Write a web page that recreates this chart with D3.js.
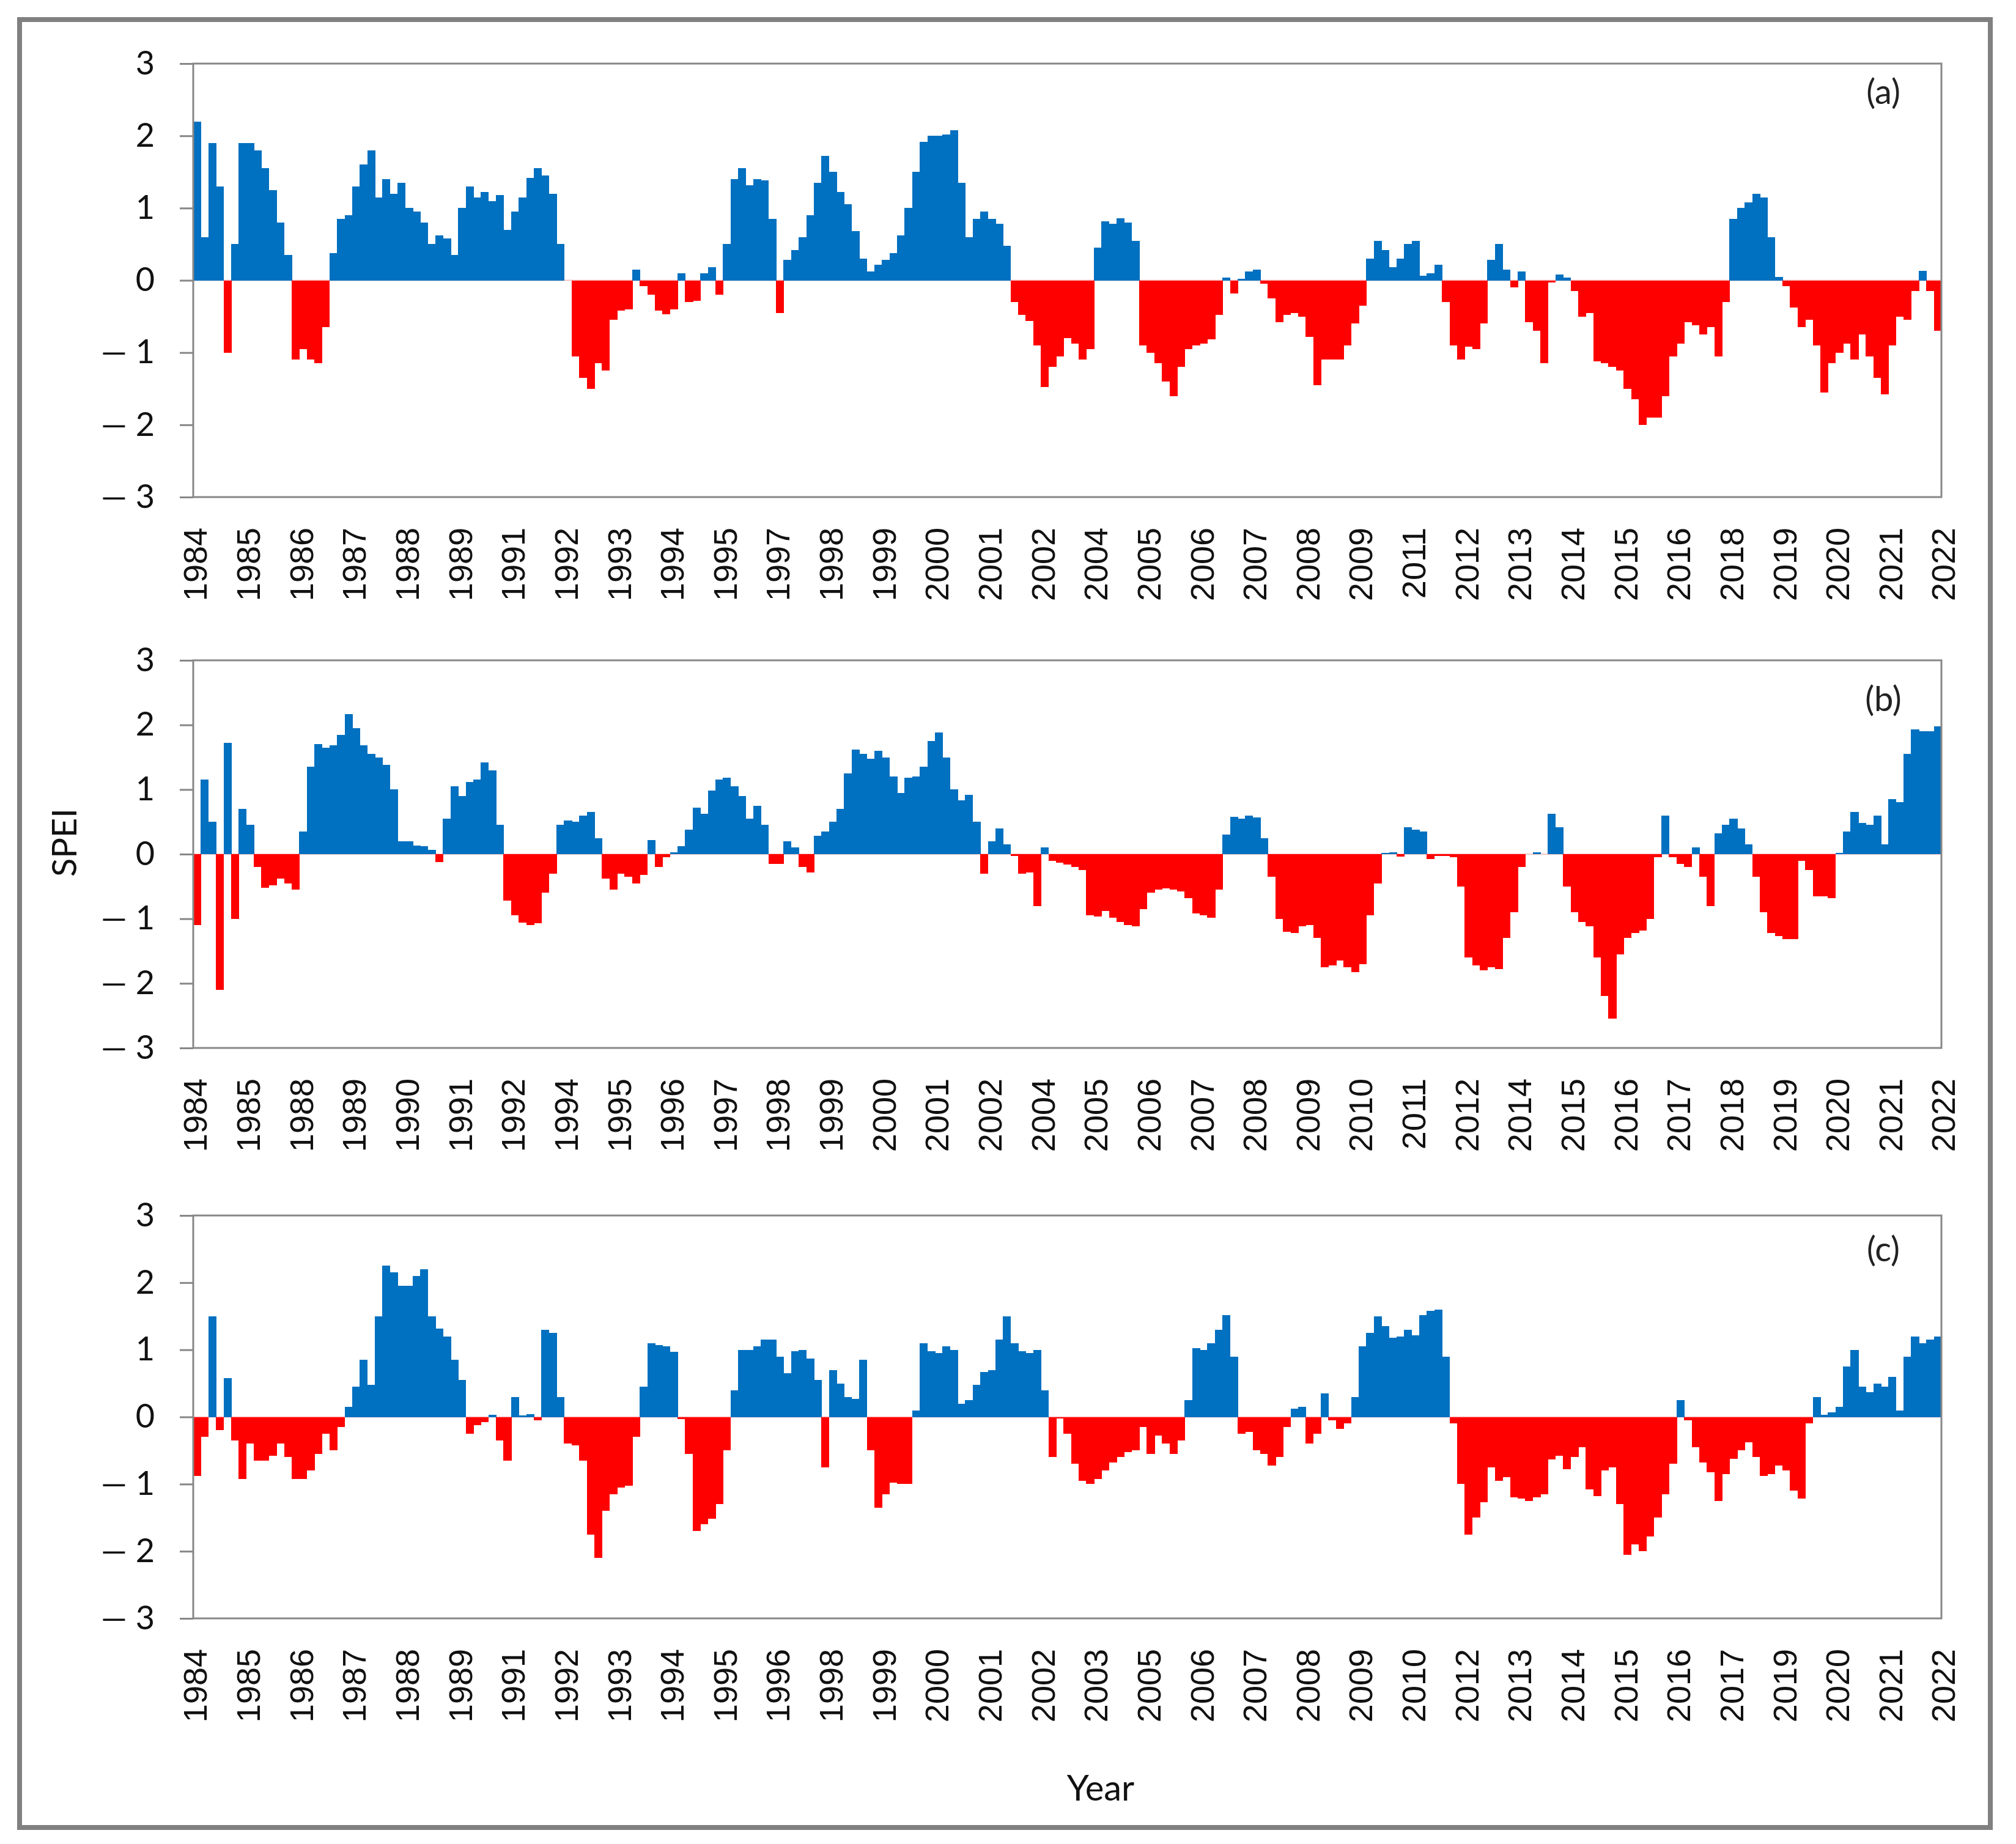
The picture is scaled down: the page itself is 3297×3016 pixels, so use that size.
<!DOCTYPE html>
<html>
<head>
<meta charset="utf-8">
<script src="https://cdn.jsdelivr.net/npm/d3@7/dist/d3.min.js"></script>
<style>
  html, body { margin: 0; padding: 0; background: #fff; }
  svg { display: block; }
</style>
</head>
<body>
<svg id="chart" width="3297" height="3016"></svg>
<script>
// ---------------- DATA ----------------
const labelsA = ["1984","1985","1986","1987","1988","1989","1991","1992","1993","1994","1995","1997","1998","1999","2000","2001","2002","2004","2005","2006","2007","2008","2009","2011","2012","2013","2014","2015","2016","2018","2019","2020","2021","2022"];
const labelsB = ["1984","1985","1988","1989","1990","1991","1992","1994","1995","1996","1997","1998","1999","2000","2001","2002","2004","2005","2006","2007","2008","2009","2010","2011","2012","2014","2015","2016","2017","2018","2019","2020","2021","2022"];
const labelsC = ["1984","1985","1986","1987","1988","1989","1991","1992","1993","1994","1995","1996","1998","1999","2000","2001","2002","2003","2005","2006","2007","2008","2009","2010","2012","2013","2014","2015","2016","2017","2019","2020","2021","2022"];

const yTicks = [-3, -2, -1, 0, 1, 2, 3];

const speiA = [
  2.2, 0.6, 1.9, 1.3, -1.0, 0.5, 1.9,
  1.9, 1.8, 1.55, 1.25, 0.8, 0.35, -1.1,
  -0.95, -1.1, -1.15, -0.65, 0.38, 0.85, 0.9,
  1.3, 1.6, 1.8, 1.15, 1.4, 1.2, 1.35,
  1.0, 0.95, 0.8, 0.5, 0.62, 0.58, 0.35,
  1.0, 1.3, 1.15, 1.22, 1.1, 1.18, 0.7,
  0.95, 1.15, 1.42, 1.55, 1.45, 1.2, 0.5,
  0, -1.05, -1.35, -1.5, -1.15, -1.25, -0.55,
  -0.42, -0.4, 0.15, -0.08, -0.2, -0.42, -0.47,
  -0.4, 0.1, -0.3, -0.28, 0.1, 0.18, -0.2,
  0.5, 1.4, 1.55, 1.32, 1.4, 1.38, 0.85,
  -0.45, 0.28, 0.42, 0.6, 0.9, 1.35, 1.72,
  1.5, 1.22, 1.05, 0.68, 0.3, 0.12, 0.22,
  0.28, 0.38, 0.62, 1.0, 1.5, 1.92, 2.0,
  2.0, 2.02, 2.08, 1.35, 0.6, 0.85, 0.95,
  0.85, 0.78, 0.48, -0.3, -0.48, -0.56, -0.9,
  -1.48, -1.2, -1.05, -0.8, -0.88, -1.1, -0.95,
  0.45, 0.82, 0.78, 0.86, 0.8, 0.55, -0.9,
  -1.0, -1.15, -1.4, -1.6, -1.2, -0.95, -0.9,
  -0.88, -0.82, -0.48, 0.04, -0.18, 0.02, 0.12,
  0.15, -0.05, -0.25, -0.58, -0.48, -0.45, -0.5,
  -0.78, -1.45, -1.1, -1.1, -1.1, -0.9, -0.6,
  -0.35, 0.3, 0.55, 0.42, 0.18, 0.3, 0.5,
  0.55, 0.06, 0.1, 0.22, -0.3, -0.9, -1.1,
  -0.92, -0.95, -0.6, 0.28, 0.5, 0.15, -0.1,
  0.12, -0.58, -0.7, -1.15, -0.03, 0.08, 0.04,
  -0.15, -0.5, -0.45, -1.12, -1.15, -1.2, -1.25,
  -1.5, -1.65, -2.0, -1.9, -1.9, -1.6, -1.05,
  -0.88, -0.58, -0.62, -0.75, -0.65, -1.05, -0.3,
  0.85, 1.0, 1.08, 1.2, 1.15, 0.6, 0.05,
  -0.08, -0.38, -0.65, -0.55, -0.9, -1.55, -1.15,
  -1.0, -0.88, -1.1, -0.75, -1.05, -1.35, -1.58,
  -0.9, -0.5, -0.55, -0.15, 0.13, -0.15, -0.7
];

const speiB = [
  -1.1, 1.15, 0.5, -2.1, 1.72, -1.0, 0.7,
  0.45, -0.2, -0.52, -0.48, -0.38, -0.45, -0.55,
  0.35, 1.35, 1.7, 1.65, 1.68, 1.85, 2.17,
  1.95, 1.68, 1.55, 1.5, 1.38, 1.0, 0.2,
  0.2, 0.13, 0.12, 0.07, -0.12, 0.55, 1.05,
  0.9, 1.12, 1.15, 1.42, 1.3, 0.45, -0.72,
  -0.95, -1.06, -1.1, -1.07, -0.6, -0.3, 0.45,
  0.52, 0.5, 0.6, 0.65, 0.25, -0.38, -0.55,
  -0.3, -0.35, -0.45, -0.32, 0.22, -0.2, -0.05,
  0.03, 0.12, 0.38, 0.72, 0.62, 0.98, 1.15,
  1.18, 1.05, 0.9, 0.55, 0.75, 0.45, -0.15,
  -0.15, 0.2, 0.1, -0.2, -0.28, 0.28, 0.35,
  0.5, 0.7, 1.25, 1.62, 1.55, 1.48, 1.6,
  1.5, 1.2, 0.95, 1.18, 1.2, 1.35, 1.75,
  1.88, 1.5, 1.0, 0.83, 0.92, 0.5, -0.3,
  0.2, 0.4, 0.15, -0.03, -0.3, -0.28, -0.8,
  0.1, -0.1, -0.13, -0.16, -0.2, -0.25, -0.95,
  -0.97, -0.88, -0.98, -1.05, -1.1, -1.12, -0.85,
  -0.6, -0.55, -0.53, -0.55, -0.58, -0.68, -0.92,
  -0.95, -0.98, -0.55, 0.3, 0.58, 0.55, 0.6,
  0.57, 0.25, -0.35, -1.0, -1.2, -1.22, -1.12,
  -1.1, -1.3, -1.75, -1.72, -1.65, -1.75, -1.83,
  -1.7, -0.95, -0.45, 0.02, 0.03, -0.04, 0.42,
  0.38, 0.35, -0.08, -0.03, -0.03, -0.05, -0.5,
  -1.6, -1.72, -1.8, -1.75, -1.78, -1.3, -0.9,
  -0.2, 0.0, 0.03, 0.0, 0.62, 0.42, -0.5,
  -0.9, -1.05, -1.12, -1.6, -2.2, -2.55, -1.55,
  -1.3, -1.22, -1.18, -1.0, -0.05, 0.6, -0.05,
  -0.15, -0.2, 0.1, -0.35, -0.8, 0.32, 0.45,
  0.55, 0.4, 0.15, -0.35, -0.9, -1.22, -1.27,
  -1.32, -1.32, -0.1, -0.25, -0.65, -0.65, -0.68,
  0.02, 0.35, 0.65, 0.48, 0.45, 0.6, 0.15,
  0.85, 0.8, 1.55, 1.93, 1.9, 1.9, 1.98
];

const speiC = [
  -0.88, -0.3, 1.5, -0.2, 0.58, -0.35, -0.92,
  -0.4, -0.65, -0.65, -0.58, -0.4, -0.6, -0.92,
  -0.92, -0.8, -0.55, -0.25, -0.5, -0.15, 0.15,
  0.45, 0.85, 0.48, 1.5, 2.25, 2.15, 1.95,
  1.95, 2.1, 2.2, 1.5, 1.32, 1.2, 0.85,
  0.55, -0.25, -0.12, -0.08, 0.03, -0.35, -0.65,
  0.3, 0.02, 0.04, -0.05, 1.3, 1.25, 0.3,
  -0.4, -0.42, -0.65, -1.75, -2.1, -1.4, -1.15,
  -1.05, -1.02, -0.3, 0.45, 1.1, 1.07, 1.05,
  0.97, -0.03, -0.55, -1.7, -1.6, -1.52, -1.3,
  -0.5, 0.4, 1.0, 1.0, 1.05, 1.15, 1.15,
  0.9, 0.65, 0.98, 1.0, 0.87, 0.55, -0.75,
  0.7, 0.5, 0.3, 0.27, 0.85, -0.5, -1.35,
  -1.15, -0.98, -1.0, -1.0, 0.1, 1.1, 0.98,
  0.95, 1.05, 1.0, 0.2, 0.25, 0.48, 0.67,
  0.7, 1.15, 1.5, 1.1, 0.98, 0.95, 1.0,
  0.4, -0.6, -0.02, -0.25, -0.7, -0.95, -1.0,
  -0.92, -0.8, -0.68, -0.6, -0.52, -0.5, -0.15,
  -0.55, -0.28, -0.4, -0.55, -0.35, 0.25, 1.02,
  1.0, 1.1, 1.3, 1.52, 0.9, -0.25, -0.22,
  -0.5, -0.55, -0.72, -0.6, -0.15, 0.12, 0.15,
  -0.4, -0.25, 0.35, -0.05, -0.18, -0.1, 0.3,
  1.05, 1.25, 1.5, 1.35, 1.18, 1.2, 1.3,
  1.22, 1.52, 1.58, 1.6, 0.9, -0.1, -1.0,
  -1.75, -1.5, -1.27, -0.75, -0.95, -0.9, -1.2,
  -1.22, -1.25, -1.2, -1.15, -0.63, -0.58, -0.78,
  -0.6, -0.45, -1.08, -1.18, -0.8, -0.75, -1.3,
  -2.05, -1.9, -2.0, -1.78, -1.5, -1.15, -0.7,
  0.25, -0.05, -0.45, -0.68, -0.82, -1.25, -0.85,
  -0.62, -0.5, -0.38, -0.6, -0.88, -0.85, -0.72,
  -0.8, -1.1, -1.22, -0.1, 0.3, 0.03, 0.07,
  0.15, 0.75, 1.0, 0.45, 0.37, 0.5, 0.45,
  0.6, 0.1, 0.9, 1.2, 1.1, 1.15, 1.2
];

const panelTags = ["(a)", "(b)", "(c)"];

// ---------------- LAYOUT ----------------
const W = 3297, H = 3016;
const X0 = 316, X1 = 3175;
const layout = [
  { top: 104,  bottom: 813,  tagY: 170 },
  { top: 1080, bottom: 1714, tagY: 1163 },
  { top: 1988, bottom: 2647, tagY: 2063 }
];
const seriesList = [speiA, speiB, speiC];
const labelList = [labelsA, labelsB, labelsC];

const BLUE = "#0070C0", RED = "#FF0000", FRAME = "#878787";
const tickFont = "Lato, 'Open Sans', 'DejaVu Sans', sans-serif";
const xFont = "'Liberation Sans', Arial, sans-serif";

const svg = d3.select("#chart");

// outer border
svg.append("rect")
  .attr("x", 32).attr("y", 32)
  .attr("width", 3223).attr("height", 2957)
  .attr("fill", "none").attr("stroke", "#808080").attr("stroke-width", 8);

seriesList.forEach((vals, p) => {
  const L = layout[p];
  const labels = labelList[p];
  const g = svg.append("g");

  const x = d3.scaleBand().domain(d3.range(vals.length)).range([X0, X1]).paddingInner(0).paddingOuter(0);
  const xl = d3.scalePoint().domain(d3.range(labels.length)).range([X0, X1]);
  const y = d3.scaleLinear().domain([-3, 3]).range([L.bottom, L.top]);

  // faint zero line
  g.append("line")
    .attr("x1", X0).attr("x2", X1)
    .attr("y1", y(0)).attr("y2", y(0))
    .attr("stroke", "#f7c4c4").attr("stroke-width", 2);

  // bars
  g.append("g").selectAll("rect")
    .data(vals)
    .join("rect")
    .attr("x", (d, i) => x(i))
    .attr("width", x.bandwidth() + 0.7)
    .attr("y", d => Math.min(y(d), y(0)))
    .attr("height", d => Math.abs(y(d) - y(0)))
    .attr("fill", d => d >= 0 ? BLUE : RED)
    .attr("shape-rendering", "crispEdges");

  // frame
  g.append("rect")
    .attr("x", X0).attr("y", L.top)
    .attr("width", X1 - X0).attr("height", L.bottom - L.top)
    .attr("fill", "none").attr("stroke", FRAME).attr("stroke-width", 3);

  // y axis
  const yAxis = d3.axisLeft(y)
    .tickValues(yTicks)
    .tickSize(22)
    .tickPadding(41)
    .tickFormat(v => v < 0 ? "\u2014 " + Math.abs(v) : String(v));
  const ya = g.append("g").attr("transform", `translate(${X0},0)`).call(yAxis);
  ya.select(".domain").remove();
  ya.selectAll(".tick line").attr("stroke", FRAME).attr("stroke-width", 3);
  ya.selectAll(".tick text")
    .attr("font-family", tickFont)
    .attr("font-size", 54)
    .attr("fill", "#111");

  // x labels (rotated)
  g.append("g").selectAll("text")
    .data(labels)
    .join("text")
    .attr("transform", (d, i) => `translate(${xl(i) + 3},${L.bottom + 50}) rotate(-90)`)
    .attr("text-anchor", "end")
    .attr("dy", "0.36em")
    .attr("font-family", xFont)
    .attr("font-size", 54)
    .attr("fill", "#111")
    .text(d => d);

  // panel tag
  g.append("text")
    .attr("x", 3080).attr("y", L.tagY)
    .attr("text-anchor", "middle")
    .attr("font-family", tickFont)
    .attr("font-size", 56)
    .attr("fill", "#222")
    .text(panelTags[p]);
});

// axis titles
svg.append("text")
  .attr("transform", "translate(125,1378) rotate(-90)")
  .attr("text-anchor", "middle")
  .attr("font-family", tickFont)
  .attr("font-size", 56)
  .attr("fill", "#111")
  .text("SPEI");

svg.append("text")
  .attr("x", 1800).attr("y", 2945)
  .attr("text-anchor", "middle")
  .attr("font-family", tickFont)
  .attr("font-size", 58)
  .attr("fill", "#111")
  .text("Year");
</script>
</body>
</html>
